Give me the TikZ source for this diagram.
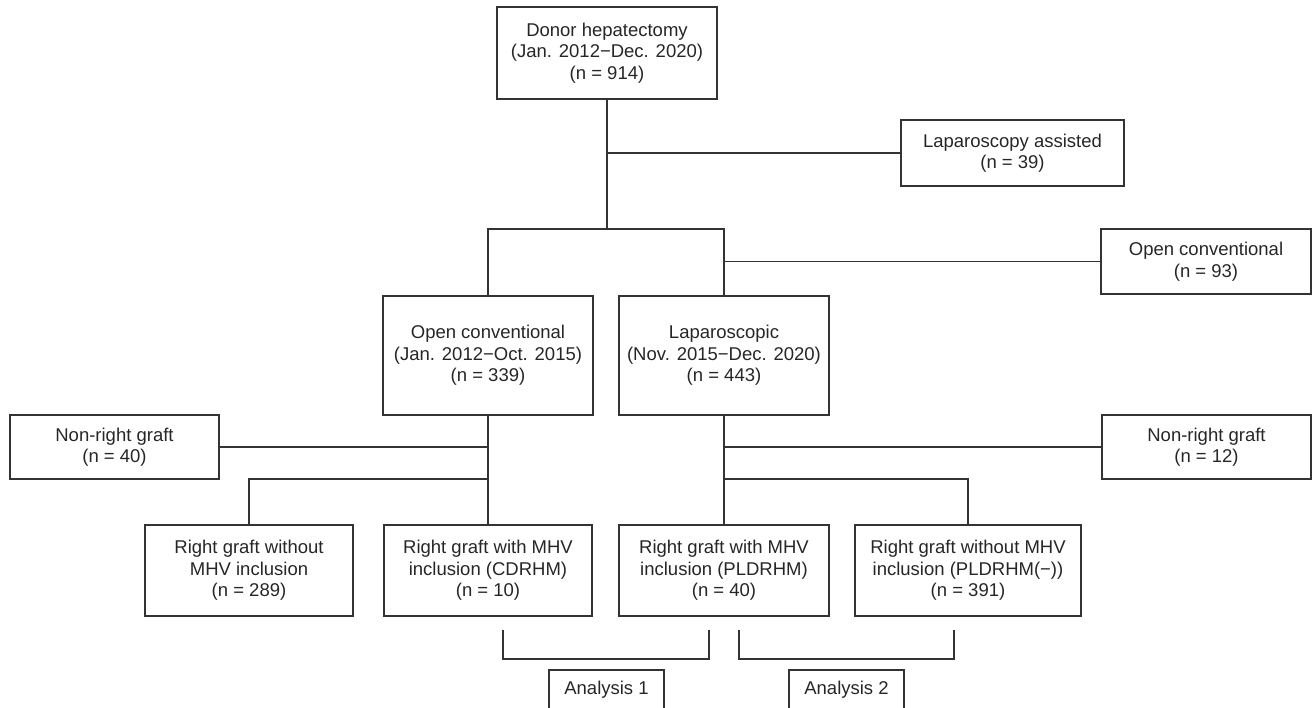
\documentclass[tikz,border=0pt]{standalone}
\usepackage{fontspec}
\setmainfont{Liberation Sans}

\begin{document}
\begin{tikzpicture}[x=1pt,y=-1pt,line width=1.3pt,
  every node/.style={font=\fontsize{18.5}{21.5}\selectfont,text=black!85},
  box/.style={draw=black!80,align=center,inner sep=0pt},
  link/.style={draw=black!80}]
\useasboundingbox (0,0) rectangle (1312,707);
\clip (0,0) rectangle (1312,707);
\node[box,minimum width=220pt,minimum height=92pt] (donor) at (607,53) {Donor hepatectomy\\(Jan. 2012−Dec. 2020)\\(n = 914)};
\node[box,minimum width=223pt,minimum height=66pt] (lapassist) at (1012.5,153) {Laparoscopy assisted\\(n = 39)};
\node[box,minimum width=210pt,minimum height=119pt] (opencv) at (488,355.5) {Open conventional\\(Jan. 2012−Oct. 2015)\\(n = 339)};
\node[box,minimum width=210pt,minimum height=119pt] (lapsc) at (724,355.5) {Laparoscopic\\(Nov. 2015−Dec. 2020)\\(n = 443)};
\node[box,minimum width=210pt,minimum height=65pt] (openexcl) at (1206,261.5) {Open conventional\\(n = 93)};
\node[box,minimum width=209pt,minimum height=64pt] (nonrL) at (114.5,447) {Non-right graft\\(n = 40)};
\node[box,minimum width=209pt,minimum height=64pt] (nonrR) at (1206.5,447) {Non-right graft\\(n = 12)};
\node[box,minimum width=208pt,minimum height=91pt] (rgA) at (249,570.5) {Right graft without\\MHV inclusion\\(n = 289)};
\node[box,minimum width=208pt,minimum height=91pt] (rgB) at (488,570.5) {Right graft with MHV\\inclusion (CDRHM)\\(n = 10)};
\node[box,minimum width=210pt,minimum height=91pt] (rgC) at (724,570.5) {Right graft with MHV\\inclusion (PLDRHM)\\(n = 40)};
\node[box,minimum width=226pt,minimum height=91pt] (rgD) at (968,570.5) {Right graft without MHV\\inclusion (PLDRHM(−))\\(n = 391)};
\node[box,minimum width=115pt,minimum height=40pt] (ana1) at (606.5,690) {Analysis 1};
\node[box,minimum width=115pt,minimum height=40pt] (ana2) at (846.5,690) {Analysis 2};
\coordinate (split1) at (607,229);
\coordinate (split2) at (488,479);
\coordinate (split3) at (724,479);
\draw[link] (donor.south) -- (split1);
\draw[link] (lapassist.west) -- (lapassist.west -| donor.south);
\draw[link] (opencv.north) |- (split1) -| (lapsc.north);
\draw[link] (openexcl.west) -- (openexcl.west -| lapsc.north);
\draw[link] (opencv.south) -- (rgB.north);
\draw[link] (nonrL.east) -- (nonrL.east -| opencv.south);
\draw[link] (rgA.north) |- (split2);
\draw[link] (lapsc.south) -- (rgC.north);
\draw[link] (nonrR.west) -- (nonrR.west -| lapsc.south);
\draw[link] (rgD.north) |- (split3);
\draw[link] (503,630) -- (503,659) -- (709,659) -- (709,630);
\draw[link] (739,630) -- (739,659) -- (954,659) -- (954,630);
\end{tikzpicture}
\end{document}
